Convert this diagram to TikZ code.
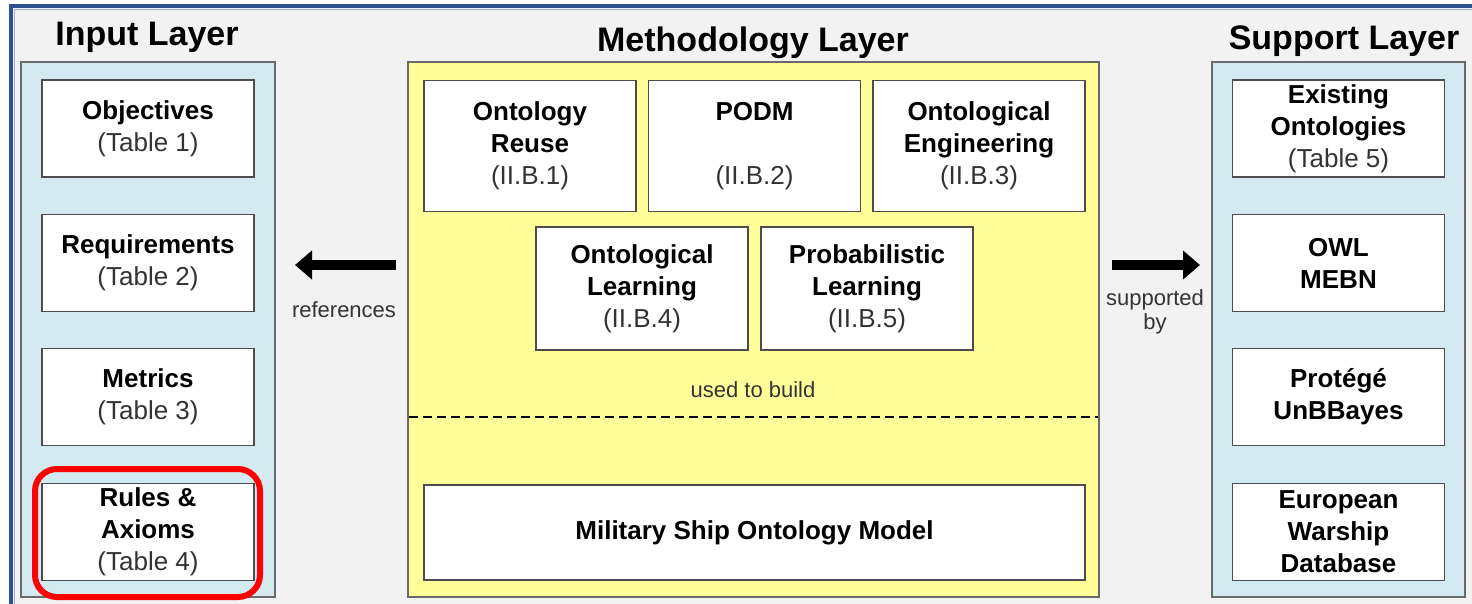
\documentclass[tikz,border=0pt]{standalone}
\usepackage{fontspec}
\setmainfont{Liberation Sans}
\usetikzlibrary{arrows.meta}
\definecolor{framebg}{HTML}{F2F2F2}
\definecolor{frameblue}{HTML}{2B5291}
\definecolor{frameedge}{HTML}{9DB3D6}
\definecolor{panelblue}{HTML}{D3EAF0}
\definecolor{panelyellow}{HTML}{FFFF99}
\definecolor{panelline}{HTML}{6A6A6A}
\definecolor{boxline}{HTML}{4D4D4D}
\definecolor{subtext}{HTML}{333333}
\definecolor{hlred}{HTML}{FF0000}
\tikzset{
  panel/.style={draw=panelline, line width=1.5pt},
  item/.style={draw=boxline, fill=white, line width=1.5pt, align=center,
    inner sep=0pt, minimum width=212pt, minimum height=97pt,
    text=subtext, font=\fontsize{26}{32}\selectfont},
  title/.style={anchor=base, font=\fontsize{34}{40}\selectfont\bfseries},
  note/.style={anchor=base, text=subtext, font=\fontsize{22}{26}\selectfont},
  blockarrow/.style={line width=10pt, -{Triangle[length=17pt,width=28pt]}},
}
\newcommand{\hd}[1]{\textcolor{black}{\bfseries #1}}
\begin{document}
\begin{tikzpicture}[x=1pt,y=-1pt]
\useasboundingbox (0,0) rectangle (1472,604);
% outer frame
\fill[white] (0,0) rectangle (1472,604);
\fill[framebg] (10,6) rectangle (1480,620);
\draw[frameedge, line width=1pt] (14,10) -- (1480,10);
\draw[frameedge, line width=1pt] (14,10) -- (14,620);
\draw[frameblue, line width=4pt] (10.5,620) -- (10.5,6.5) -- (1480,6.5);

% layer panels
\draw[panel, fill=panelblue] (21,62) rectangle (275,597);
\draw[panel, fill=panelyellow] (408,62) rectangle (1099,597);
\draw[panel, fill=panelblue] (1212,62) rectangle (1465,597);

% layer titles
\node[title] (tin) at (147,46) {Input Layer};
\node[title] (tmeth) at (753,52) {Methodology Layer};
\node[title] (tsup) at (1344,50) {Support Layer};

% input layer
\node[item] (obj) at (148,128.5) {\hd{Objectives}\\(Table 1)};
\node[item] (req) at (148,263) {\hd{Requirements}\\(Table 2)};
\node[item] (met) at (148,397) {\hd{Metrics}\\(Table 3)};
\node[item] (rul) at (148,532) {\hd{Rules \&}\\\hd{Axioms}\\(Table 4)};

% methodology layer
\node[item, minimum height=131pt] (reuse) at (530,146) {\hd{Ontology}\\\hd{Reuse}\\(II.B.1)};
\node[item, minimum height=131pt] (podm) at (754.5,146) {\hd{PODM}\\[32pt](II.B.2)};
\node[item, minimum height=131pt] (oeng) at (979,146) {\hd{Ontological}\\\hd{Engineering}\\(II.B.3)};
\node[item, minimum height=123pt] (olearn) at (642,288.5) {\hd{Ontological}\\\hd{Learning}\\(II.B.4)};
\node[item, minimum height=123pt] (plearn) at (867,288.5) {\hd{Probabilistic}\\\hd{Learning}\\(II.B.5)};
\node[note] (build) at (753,397) {used to build};
\draw[black, line width=1.5pt, dash pattern=on 9pt off 5pt] (408.75,417) -- (1098.25,417);
\node[item, minimum width=661pt, minimum height=95pt] (msom) at (754.5,532.5) {\hd{Military Ship Ontology Model}};

% support layer
\node[item] (exo) at (1338.5,128.5) {\hd{Existing}\\\hd{Ontologies}\\(Table 5)};
\node[item] (owl) at (1338.5,263) {\hd{OWL}\\\hd{MEBN}};
\node[item] (prot) at (1338.5,397) {\hd{Protégé}\\\hd{UnBBayes}};
\node[item] (ewd) at (1338.5,532) {\hd{European}\\\hd{Warship}\\\hd{Database}};

% highlight around the rules box
\draw[hlred, line width=6pt, rounded corners=22pt] (35,469) rectangle (260,597);

% relations between the layers
\coordinate (refFrom) at (396,265);
\coordinate (refTo) at (295,265);
\coordinate (supFrom) at (1112,265);
\coordinate (supTo) at (1200,265);
\draw[blockarrow] (refFrom) -- (refTo);
\draw[blockarrow] (supFrom) -- (supTo);
\node[note] (lref) at (344,317) {references};
\node[note, align=center, anchor=north] (lsup) at (1155,286) {supported\\[-2pt]by};
\end{tikzpicture}
\end{document}
